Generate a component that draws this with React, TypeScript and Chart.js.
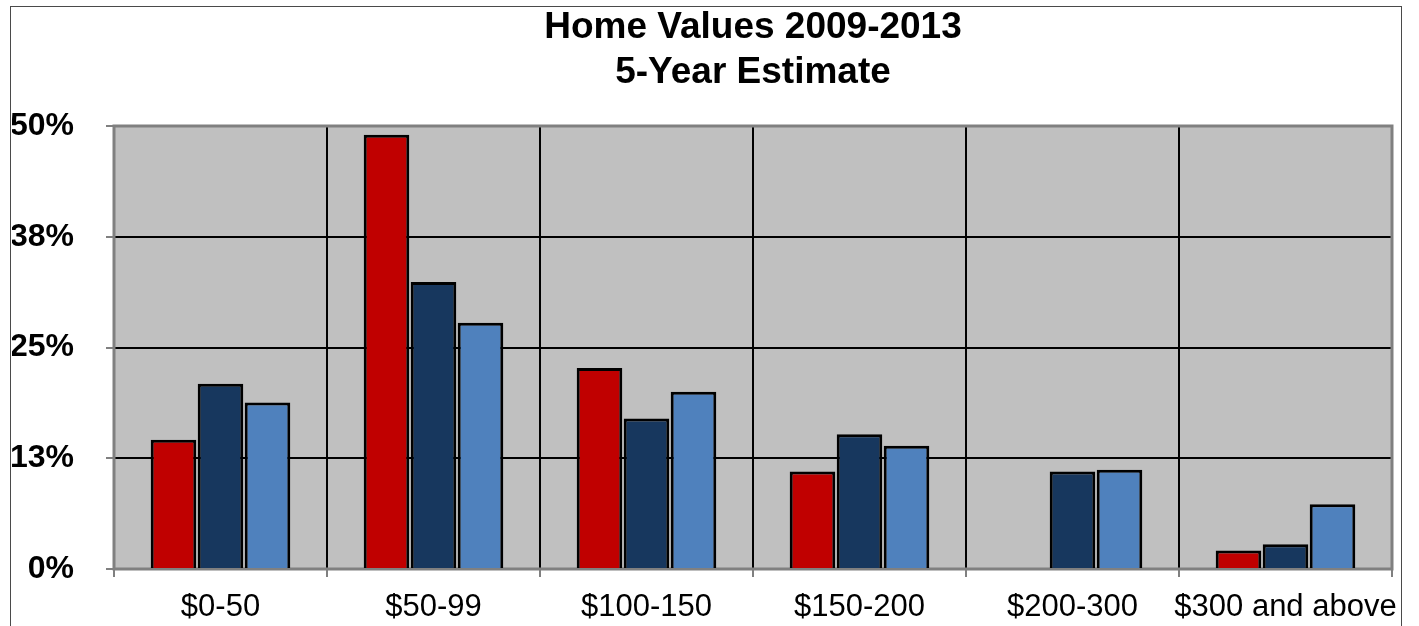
import React, { useEffect, useRef } from "react";
import { Chart, registerables } from "chart.js";

Chart.register(...registerables);

const titleLines = ["Home Values 2009-2013", "5-Year Estimate"];
const categories = ["$0-50", "$50-99", "$100-150", "$150-200", "$200-300", "$300 and above"];
const seriesRed = [14.6, 49.0, 22.7, 11.0, null, 2.1];
const seriesDark = [20.9, 32.4, 17.0, 15.2, 11.0, 2.8];
const seriesLight = [18.8, 27.8, 20.0, 13.9, 11.2, 7.3];
const yTickValues = [0, 12.5, 25, 37.5, 50];
const yTickLabels = ["0%", "13%", "25%", "38%", "50%"];

const FONT = "'Liberation Sans', Arial, sans-serif";

const decorPlugin = {
  id: "decor",
  beforeDraw(chart: any) {
    const { ctx, chartArea: a } = chart;
    ctx.save();
    ctx.fillStyle = "#C0C0C0";
    ctx.fillRect(a.left, a.top, a.right - a.left, a.bottom - a.top);
    // outer chart frame
    ctx.strokeStyle = "#4a4a4a";
    ctx.lineWidth = 1;
    ctx.strokeRect(10.5, 6.5, chart.width - 28, chart.height + 20);
    // title
    ctx.fillStyle = "#000";
    ctx.font = `bold 37px ${FONT}`;
    ctx.textAlign = "center";
    ctx.textBaseline = "alphabetic";
    const cx = (a.left + a.right) / 2;
    ctx.fillText(titleLines[0], cx, 38);
    ctx.fillText(titleLines[1], cx, 83);
    ctx.restore();
  },
  beforeDatasetsDraw(chart: any) {
    const { ctx, chartArea: a } = chart;
    ctx.save();
    ctx.strokeStyle = "#808080";
    ctx.lineWidth = 3;
    ctx.strokeRect(a.left, a.top, a.right - a.left, a.bottom - a.top);
    ctx.restore();
  },
};

export default function App() {
  const ref = useRef<HTMLCanvasElement | null>(null);
  useEffect(() => {
    if (!ref.current) return;
    const chart = new Chart(ref.current, {
      type: "bar",
      data: {
        labels: categories,
        datasets: [
          { data: seriesRed, backgroundColor: "#C00000" },
          { data: seriesDark, backgroundColor: "#17375E" },
          { data: seriesLight, backgroundColor: "#4F81BD" },
        ].map((d) => ({
          ...d,
          borderColor: "#000",
          borderWidth: 3,
          categoryPercentage: 0.662,
          barPercentage: 0.97,
        })),
      },
      options: {
        animation: false,
        responsive: false,
        maintainAspectRatio: false,
        layout: { padding: { left: 12, right: 27, top: 126, bottom: 0 } },
        plugins: {
          legend: { display: false },
          title: { display: false },
          tooltip: { enabled: false },
        },
        scales: {
          x: {
            border: { display: false },
            grid: {
              offset: true,
              color: "#000",
              lineWidth: 2,
              tickColor: "#808080",
              tickWidth: 2,
              tickLength: 8,
            },
            ticks: {
              color: "#000",
              font: { family: FONT, size: 31 },
              maxRotation: 0,
              minRotation: 0,
              autoSkip: false,
              padding: 12,
            },
            afterFit(scale: any) {
              scale.height = 57;
            },
          },
          y: {
            min: 0,
            max: 50,
            border: { display: false },
            afterBuildTicks(scale: any) {
              scale.ticks = yTickValues.map((v) => ({ value: v }));
            },
            grid: {
              color: "#000",
              lineWidth: 2,
              tickColor: "#808080",
              tickWidth: 2,
              tickLength: 8,
            },
            ticks: {
              color: "#000",
              font: { family: FONT, size: 32, weight: "bold" },
              padding: 32,
              callback: (_v: any, i: number) => yTickLabels[i],
            },
            afterFit(scale: any) {
              scale.width = 102;
            },
          },
        },
      },
      plugins: [decorPlugin],
    } as any);
    return () => chart.destroy();
  }, []);
  return (
    <div style={{ position: "fixed", left: 0, top: 0, width: 1419, height: 626, background: "#fff" }}>
      <canvas ref={ref} width={1419} height={626} style={{ display: "block" }} />
    </div>
  );
}
